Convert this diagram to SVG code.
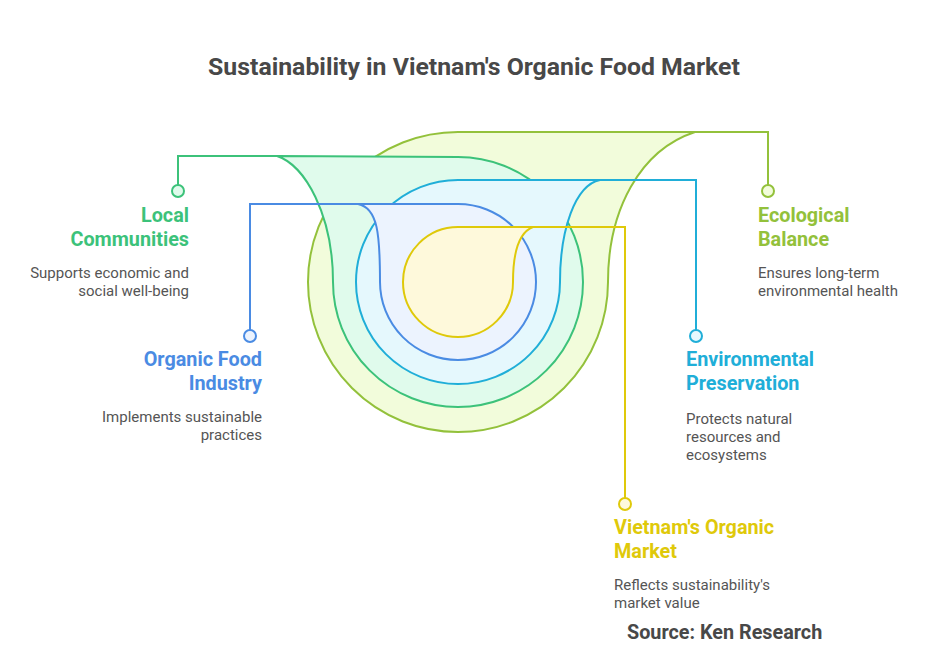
<svg xmlns="http://www.w3.org/2000/svg" width="948" height="661" viewBox="0 0 948 661">
<style>
.t{font-family:Roboto,"Liberation Sans",sans-serif;font-weight:bold;font-size:19.8px}
.d{font-family:Roboto,"Liberation Sans",sans-serif;font-size:15px;fill:#555555}
.sh{stroke-width:2;stroke-linejoin:round}
.c{fill:none;stroke-width:2}
</style>
<rect width="948" height="661" fill="#ffffff"/>
<text x="474" y="75" text-anchor="middle" style="font-family:Roboto,'Liberation Sans',sans-serif;font-weight:bold;font-size:24.8px;fill:#484848">Sustainability in Vietnam's Organic Food Market</text>
<g id="shapes">
<path id="ecological-shape" class="sh" fill="#f2fcdb" stroke="#93c13b" d="M458,132 L695,132 C640,150 608,210 608,282 A150,150 0 1 1 458,132 Z"/>
<path id="local-shape" class="sh" fill="#e0fbec" stroke="#3cc27a" d="M277,156 L458,157 A125,125 0 1 1 333,282 C333,215 305,165 277,156 Z"/>
<path id="env-shape" class="sh" fill="#e5f8fd" stroke="#20aed8" d="M458,180 L600,180 C575,185 560,230 560,282 A102,102 0 1 1 458,180 Z"/>
<path id="industry-shape" class="sh" fill="#ecf3fe" stroke="#4a8be3" d="M358,204 L458,204 A78,78 0 1 1 380,282 C380,235 378,208 358,204 Z"/>
<path id="market-shape" class="sh" fill="#fef9db" stroke="#dfc90a" d="M458,227 L533,227 C520,232 513,250 513,282 A55,55 0 1 1 458,227 Z"/>
</g>
<g id="connectors">
<path class="c" stroke="#93c13b" d="M695,132 H768 V185"/>
<path class="c" stroke="#3cc27a" d="M277,156 H178 V185"/>
<path class="c" stroke="#20aed8" d="M600,180 H696 V330"/>
<path class="c" stroke="#4a8be3" d="M358,204 H250 V330"/>
<path class="c" stroke="#dfc90a" d="M533,227 H625 V498"/>
</g>
<g id="local-communities">
<circle cx="178" cy="191" r="6" fill="#e0fbec" stroke="#3cc27a" stroke-width="2"/>
<text class="t" x="189" y="222" text-anchor="end" fill="#3cc27a">Local</text>
<text class="t" x="189" y="246" text-anchor="end" fill="#3cc27a">Communities</text>
<text class="d" x="189" y="278" text-anchor="end">Supports economic and</text>
<text class="d" x="189" y="296" text-anchor="end">social well-being</text>
</g>
<g id="organic-food-industry">
<circle cx="250" cy="336" r="6" fill="#ecf3fe" stroke="#4a8be3" stroke-width="2"/>
<text class="t" x="262" y="366" text-anchor="end" fill="#4a8be3">Organic Food</text>
<text class="t" x="262" y="390" text-anchor="end" fill="#4a8be3">Industry</text>
<text class="d" x="262" y="422" text-anchor="end">Implements sustainable</text>
<text class="d" x="262" y="440" text-anchor="end">practices</text>
</g>
<g id="ecological-balance">
<circle cx="768" cy="191" r="6" fill="#f2fcdb" stroke="#93c13b" stroke-width="2"/>
<text class="t" x="758" y="222" fill="#93c13b">Ecological</text>
<text class="t" x="758" y="246" fill="#93c13b">Balance</text>
<text class="d" x="758" y="278">Ensures long-term</text>
<text class="d" x="758" y="296">environmental health</text>
</g>
<g id="environmental-preservation">
<circle cx="696" cy="336" r="6" fill="#e5f8fd" stroke="#20aed8" stroke-width="2"/>
<text class="t" x="686" y="366" fill="#20aed8">Environmental</text>
<text class="t" x="686" y="390" fill="#20aed8">Preservation</text>
<text class="d" x="686" y="424">Protects natural</text>
<text class="d" x="686" y="442">resources and</text>
<text class="d" x="686" y="460">ecosystems</text>
</g>
<g id="vietnam-organic-market">
<circle cx="625" cy="504" r="6" fill="#fef9db" stroke="#dfc90a" stroke-width="2"/>
<text class="t" x="614" y="534" fill="#dfc90a">Vietnam's Organic</text>
<text class="t" x="614" y="558" fill="#dfc90a">Market</text>
<text class="d" x="614" y="590">Reflects sustainability's</text>
<text class="d" x="614" y="608">market value</text>
</g>
<text x="627" y="639" style="font-family:Roboto,'Liberation Sans',sans-serif;font-weight:bold;font-size:19.8px;fill:#484848">Source: Ken Research</text>
</svg>
